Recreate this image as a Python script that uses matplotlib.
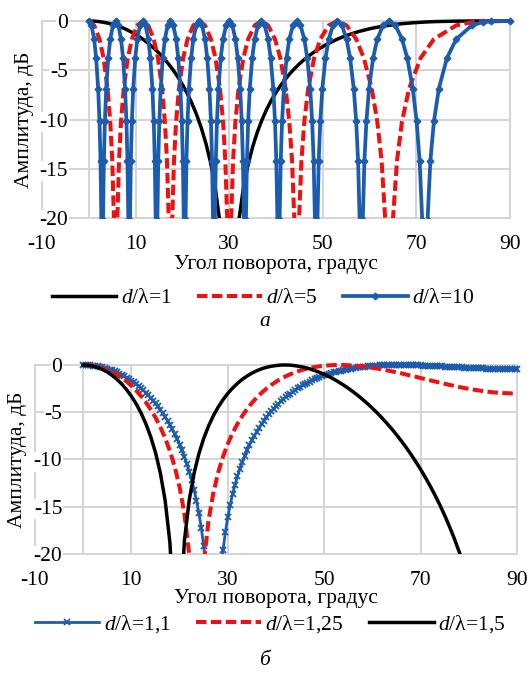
import numpy as np
import matplotlib
matplotlib.use("Agg")
import matplotlib.pyplot as plt
from matplotlib.transforms import Bbox, TransformedBbox

plt.rcParams['font.family'] = ['Liberation Serif', 'DejaVu Serif']
plt.rcParams['mathtext.fontset'] = 'custom'
plt.rcParams['mathtext.rm'] = 'Liberation Serif'
plt.rcParams['mathtext.it'] = 'Liberation Serif:italic'
plt.rcParams['axes.unicode_minus'] = False

# ---------- data, panel "а" ----------
angle_1 = np.arange(0, 91)
amp_1 = [0, -0.01, -0.05, -0.12, -0.21, -0.33, -0.48, -0.65, -0.86, -1.09,
         -1.36, -1.66, -2.00, -2.38, -2.80, -3.26, -3.77, -4.34, -4.96, -5.66,
         -6.44, -7.32, -8.32, -9.46, -10.79, -12.37, -14.32, -16.83, -20.37, -26.4,
         -40.0, -26.5, -20.5, -17.08, -14.67, -12.80, -11.30, -10.05, -8.98, -8.06,
         -7.26, -6.54, -5.91, -5.33, -4.82, -4.35, -3.93, -3.55, -3.20, -2.88,
         -2.60, -2.33, -2.09, -1.87, -1.67, -1.48, -1.32, -1.17, -1.03, -0.91,
         -0.79, -0.69, -0.60, -0.52, -0.45, -0.38, -0.32, -0.27, -0.23, -0.19,
         -0.16, -0.13, -0.10, -0.08, -0.06, -0.05, -0.04, -0.03, -0.02, -0.01,
         -0.01, 0, 0, 0, 0, 0, 0, 0, 0, 0, 0]

angle_5 = [0, 1.146, 2.292, 3.153, 4.014, 4.589, 5.020, 5.380, 5.739,
           6.099, 6.460, 6.892, 7.470, 8.338, 9.207, 10.370, 11.537,
           12.709, 13.887, 14.774, 15.665, 16.261, 16.709, 17.083, 17.458,
           17.834, 18.210, 18.664, 19.269, 20.182, 21.100, 22.334, 23.578,
           24.835, 26.104, 27.065, 28.034, 28.687, 29.177, 29.589, 30.000,
           30.416, 30.831, 31.333, 32.006, 33.025, 34.056, 35.452, 36.870,
           38.318, 39.793, 40.920, 42.068, 42.845, 43.435, 43.928, 44.427,
           44.931, 45.441, 46.055, 46.887, 48.160, 49.467, 51.263, 53.130,
           55.086, 57.142, 58.762, 60.463, 61.646, 62.565, 63.352, 64.158,
           64.992, 65.856, 66.927, 68.440, 70.911, 73.745, 78.532, 81.896, 84.286, 90.0]
amp_5 = [0, -0.44, -1.84, -3.75, -6.86, -10.2, -14.19, -20.17, -40,
         -20.17, -14.19, -10.2, -6.86, -3.75, -1.84, -0.44, 0,
         -0.44, -1.84, -3.75, -6.86, -10.2, -14.19, -20.17, -40,
         -20.17, -14.19, -10.2, -6.86, -3.75, -1.84, -0.44, 0,
         -0.44, -1.84, -3.75, -6.86, -10.2, -14.19, -20.17, -40,
         -20.17, -14.19, -10.2, -6.86, -3.75, -1.84, -0.44, 0,
         -0.44, -1.84, -3.75, -6.86, -10.2, -14.19, -20.17, -40,
         -20.17, -14.19, -10.2, -6.86, -3.75, -1.84, -0.44, 0,
         -0.44, -1.84, -3.75, -6.86, -10.2, -14.19, -20.17, -40,
         -20.17, -14.19, -10.2, -6.86, -3.75, -1.84, -0.44, -0.11, -0.03, 0]

angle_10 = [0, 0.573, 1.146, 1.576, 2.006, 2.293, 2.508, 2.687, 2.866,
            3.045, 3.225, 3.440, 3.727, 4.158, 4.589, 5.164, 5.739,
            6.316, 6.892, 7.325, 7.759, 8.048, 8.265, 8.446, 8.627,
            8.807, 8.988, 9.207, 9.498, 9.933, 10.370, 10.953, 11.537,
            12.123, 12.709, 13.150, 13.592, 13.887, 14.108, 14.293, 14.478,
            14.663, 14.848, 15.070, 15.368, 15.813, 16.261, 16.859, 17.458,
            18.059, 18.664, 19.117, 19.573, 19.877, 20.106, 20.297, 20.487,
            20.679, 20.870, 21.100, 21.408, 21.870, 22.334, 22.954, 23.578,
            24.205, 24.835, 25.310, 25.786, 26.104, 26.344, 26.544, 26.744,
            26.945, 27.146, 27.388, 27.711, 28.197, 28.687, 29.342, 30.000,
            30.665, 31.333, 31.837, 32.345, 32.685, 32.940, 33.154, 33.367,
            33.583, 33.798, 34.056, 34.404, 34.925, 35.452, 36.158, 36.870,
            37.591, 38.318, 38.867, 39.422, 39.793, 40.072, 40.308, 40.542,
            40.778, 41.015, 41.301, 41.684, 42.262, 42.845, 43.632, 44.427,
            45.237, 46.055, 46.681, 47.309, 47.733, 48.052, 48.323, 48.590,
            48.863, 49.136, 49.467, 49.908, 50.582, 51.263, 52.187, 53.130,
            54.097, 55.086, 55.844, 56.619, 57.142, 57.542, 57.875, 58.212,
            58.556, 58.899, 59.320, 59.884, 60.753, 61.646, 62.875, 64.158,
            65.510, 66.927, 68.049, 69.232, 70.053, 70.696, 71.245, 71.805,
            72.394, 72.990, 73.745, 74.802, 76.541, 78.522, 81.890, 84.268, 85.947, 90.0]
amp_10 = [0, -0.44, -1.84, -3.75, -6.86, -10.2, -14.19, -20.17, -40,
          -20.17, -14.19, -10.2, -6.86, -3.75, -1.84, -0.44, 0,
          -0.44, -1.84, -3.75, -6.86, -10.2, -14.19, -20.17, -40,
          -20.17, -14.19, -10.2, -6.86, -3.75, -1.84, -0.44, 0,
          -0.44, -1.84, -3.75, -6.86, -10.2, -14.19, -20.17, -40,
          -20.17, -14.19, -10.2, -6.86, -3.75, -1.84, -0.44, 0,
          -0.44, -1.84, -3.75, -6.86, -10.2, -14.19, -20.17, -40,
          -20.17, -14.19, -10.2, -6.86, -3.75, -1.84, -0.44, 0,
          -0.44, -1.84, -3.75, -6.86, -10.2, -14.19, -20.17, -40,
          -20.17, -14.19, -10.2, -6.86, -3.75, -1.84, -0.44, 0,
          -0.44, -1.84, -3.75, -6.86, -10.2, -14.19, -20.17, -40,
          -20.17, -14.19, -10.2, -6.86, -3.75, -1.84, -0.44, 0,
          -0.44, -1.84, -3.75, -6.86, -10.2, -14.19, -20.17, -40,
          -20.17, -14.19, -10.2, -6.86, -3.75, -1.84, -0.44, 0,
          -0.44, -1.84, -3.75, -6.86, -10.2, -14.19, -20.17, -40,
          -20.17, -14.19, -10.2, -6.86, -3.75, -1.84, -0.44, 0,
          -0.44, -1.84, -3.75, -6.86, -10.2, -14.19, -20.17, -40,
          -20.17, -14.19, -10.2, -6.86, -3.75, -1.84, -0.44, 0,
          -0.44, -1.84, -3.75, -6.86, -10.2, -14.19, -20.17, -40,
          -20.17, -14.19, -10.2, -6.86, -3.75, -1.84, -0.44, -0.11, -0.03, 0]

# ---------- data, panel "б" ----------
angle_11 = np.arange(0, 90.5, 0.5)
amp_11 = [0, -0.004, -0.02, -0.04, -0.06, -0.10, -0.14, -0.20, -0.26, -0.32,
          -0.40, -0.49, -0.58, -0.68, -0.79, -0.92, -1.05, -1.19, -1.34, -1.50,
          -1.67, -1.85, -2.04, -2.25, -2.47, -2.70, -2.94, -3.20, -3.47, -3.76,
          -4.07, -4.39, -4.74, -5.10, -5.49, -5.90, -6.34, -6.81, -7.31, -7.85,
          -8.42, -9.05, -9.73, -10.47, -11.28, -12.19, -13.20, -14.35, -15.68, -17.25,
          -19.16, -21.62, -25.06, -30.8, -54.0, -32.1, -25.76, -22.15, -19.63, -17.69,
          -16.11, -14.79, -13.66, -12.66, -11.78, -10.99, -10.28, -9.62, -9.03, -8.47,
          -7.96, -7.49, -7.05, -6.63, -6.24, -5.88, -5.54, -5.22, -4.91, -4.63,
          -4.36, -4.10, -3.86, -3.63, -3.41, -3.21, -3.02, -2.82, -2.64, -2.47,
          -2.31, -2.16, -2.02, -1.88, -1.75, -1.63, -1.51, -1.41, -1.30, -1.20,
          -1.11, -1.02, -0.94, -0.86, -0.78, -0.71, -0.65, -0.59, -0.53, -0.48,
          -0.43, -0.38, -0.34, -0.30, -0.26, -0.23, -0.19, -0.17, -0.14, -0.12,
          -0.10, -0.08, -0.06, -0.05, -0.04, -0.03, -0.02, -0.01, -0.01, 0,
          0, 0, 0, 0, -0.01, -0.01, -0.02, -0.02, -0.03, -0.04,
          -0.05, -0.06, -0.07, -0.08, -0.09, -0.10, -0.12, -0.13, -0.14, -0.16,
          -0.17, -0.18, -0.20, -0.21, -0.22, -0.24, -0.25, -0.26, -0.28, -0.29,
          -0.30, -0.31, -0.32, -0.34, -0.35, -0.36, -0.37, -0.38, -0.38, -0.39,
          -0.40, -0.41, -0.41, -0.42, -0.42, -0.43, -0.43, -0.43, -0.44, -0.44,
          -0.44]

angle_b = np.arange(0, 91)
amp_125 = [0, -0.02, -0.08, -0.19, -0.33, -0.52, -0.75, -1.04, -1.37, -1.75,
           -2.20, -2.71, -3.29, -3.95, -4.71, -5.57, -6.57, -7.74, -9.12, -10.81,
           -12.93, -15.77, -20.04, -28.78, -31.55, -21.04, -16.47, -13.54, -11.39, -9.71,
           -8.34, -7.20, -6.23, -5.39, -4.65, -4.01, -3.45, -2.95, -2.51, -2.12,
           -1.77, -1.47, -1.20, -0.97, -0.77, -0.59, -0.44, -0.32, -0.22, -0.14,
           -0.08, -0.04, -0.01, 0, -0.01, -0.03, -0.06, -0.10, -0.16, -0.22,
           -0.30, -0.38, -0.47, -0.57, -0.67, -0.78, -0.89, -1.01, -1.13, -1.25,
           -1.38, -1.50, -1.63, -1.75, -1.87, -1.99, -2.11, -2.22, -2.33, -2.43,
           -2.52, -2.61, -2.69, -2.77, -2.83, -2.89, -2.93, -2.97, -2.99, -3.01, -3.01]
amp_15 = [0, -0.03, -0.12, -0.27, -0.48, -0.75, -1.10, -1.52, -2.02, -2.61,
          -3.31, -4.12, -5.08, -6.22, -7.59, -9.27, -11.42, -14.34, -18.84, -28.73,
          -27.76, -18.59, -14.28, -11.46, -9.39, -7.78, -6.47, -5.38, -4.46, -3.68,
          -3.01, -2.44, -1.95, -1.52, -1.17, -0.86, -0.61, -0.41, -0.25, -0.14,
          -0.06, -0.01, 0, -0.02, -0.08, -0.16, -0.27, -0.41, -0.58, -0.77,
          -0.99, -1.23, -1.50, -1.80, -2.12, -2.47, -2.84, -3.23, -3.66, -4.10,
          -4.58, -5.08, -5.61, -6.17, -6.76, -7.38, -8.04, -8.73, -9.46, -10.23,
          -11.04, -11.91, -12.82, -13.79, -14.82, -15.92, -17.11, -18.38, -19.76, -21.26,
          -22.91, -24.73, -26.77, -29.09, -31.76, -34.93, -38.8, -43.8, -50.8, -62.9, -80.0]

x_ticks = [-10, 10, 30, 50, 70, 90]
y_ticks = [0, -5, -10, -15, -20]
x_title = 'Угол поворота, градус'
y_title = 'Амплитуда, дБ'

BLUE = '#1B5CAE'
RED = '#F01010'
GRID = '#D4D4D4'
FS = 15.5

fig = plt.figure(figsize=(5.32, 6.75), dpi=100)
ax1 = fig.add_axes([0.0789, 0.677, 0.8797, 0.2919])
ax2 = fig.add_axes([0.0658, 0.1793, 0.906, 0.28])


def style(ax, label_y, xpad):
    ax.set_xlim(-10, 90)
    ax.set_ylim(-20, 0)
    ax.set_xticks(x_ticks)
    ax.set_yticks(y_ticks)
    ax.set_axisbelow(True)
    ax.grid(True, color=GRID, lw=1.4)
    for s in ['top', 'right', 'bottom']:
        ax.spines[s].set_visible(False)
    ax.spines['left'].set_position(('data', 0))
    ax.spines['left'].set_color(GRID)
    ax.spines['left'].set_linewidth(1.4)
    ax.spines['left'].set_zorder(0.6)
    ax.tick_params(axis='x', length=0, pad=xpad, labelsize=FS)
    ax.tick_params(axis='y', length=0, pad=15, labelsize=FS)
    for lab in ax.get_yticklabels():
        lab.set_bbox(dict(facecolor='white', edgecolor='none', pad=0.5))
    for gl in ax.get_xgridlines() + ax.get_ygridlines():
        gl.set_clip_on(False)
    ax.set_xlabel(x_title, fontsize=FS)
    ax.xaxis.label.set_va('center')
    ax.xaxis.set_label_coords(0.5, label_y)
    ax.set_ylabel(y_title, fontsize=FS)
    ax.yaxis.label.set_va('center')


def unclip(ax, lines):
    box = TransformedBbox(Bbox([[-0.02, 0.0], [1.02, 1.06]]), ax.transAxes)
    for ln in lines:
        ln.set_clip_box(box)


# panel а
l1, = ax1.plot(angle_1, amp_1, color='black', lw=2.5, label=r'$d/$λ=1')
l5, = ax1.plot(angle_5, amp_5, color=RED, lw=2.9, ls=(0, (2.6, 1.1)), label=r'$d/$λ=5')
l10, = ax1.plot(angle_10, amp_10, color=BLUE, lw=2.7, marker='D', ms=3.4,
                label=r'$d/$λ=10')
unclip(ax1, [l1, l5, l10])
style(ax1, -0.238, 12)
ax1.yaxis.set_label_coords(-0.038, 0.5)

# panel б
m11, = ax2.plot(angle_11, amp_11, color=BLUE, lw=2.0, marker='x', ms=5, mew=1.3,
                label=r'$d/$λ=1,1')
m125, = ax2.plot(angle_b, amp_125, color=RED, lw=2.9, ls=(0, (2.6, 1.1)),
                 label=r'$d/$λ=1,25')
m15, = ax2.plot(angle_b, amp_15, color='black', lw=2.5, label=r'$d/$λ=1,5')
unclip(ax2, [m11, m125, m15])
style(ax2, -0.236, 12)
ax2.yaxis.set_label_coords(-0.037, 0.5)

leg_kw = dict(loc='center', ncol=3, frameon=False, fontsize=FS, handlelength=3.0,
              handletextpad=0.2, columnspacing=1.2, numpoints=1, borderpad=0)
fig.legend(handles=[l1, l5, l10], bbox_to_anchor=(0.494, 0.558), **leg_kw)
fig.legend(handles=[m11, m125, m15], bbox_to_anchor=(0.5075, 0.076), **leg_kw)

fig.text(0.498, 0.524, 'а', ha='center', va='center', fontsize=FS, style='italic')
fig.text(0.498, 0.021, 'б', ha='center', va='center', fontsize=FS, style='italic')

fig.savefig('out.png', dpi=100)
